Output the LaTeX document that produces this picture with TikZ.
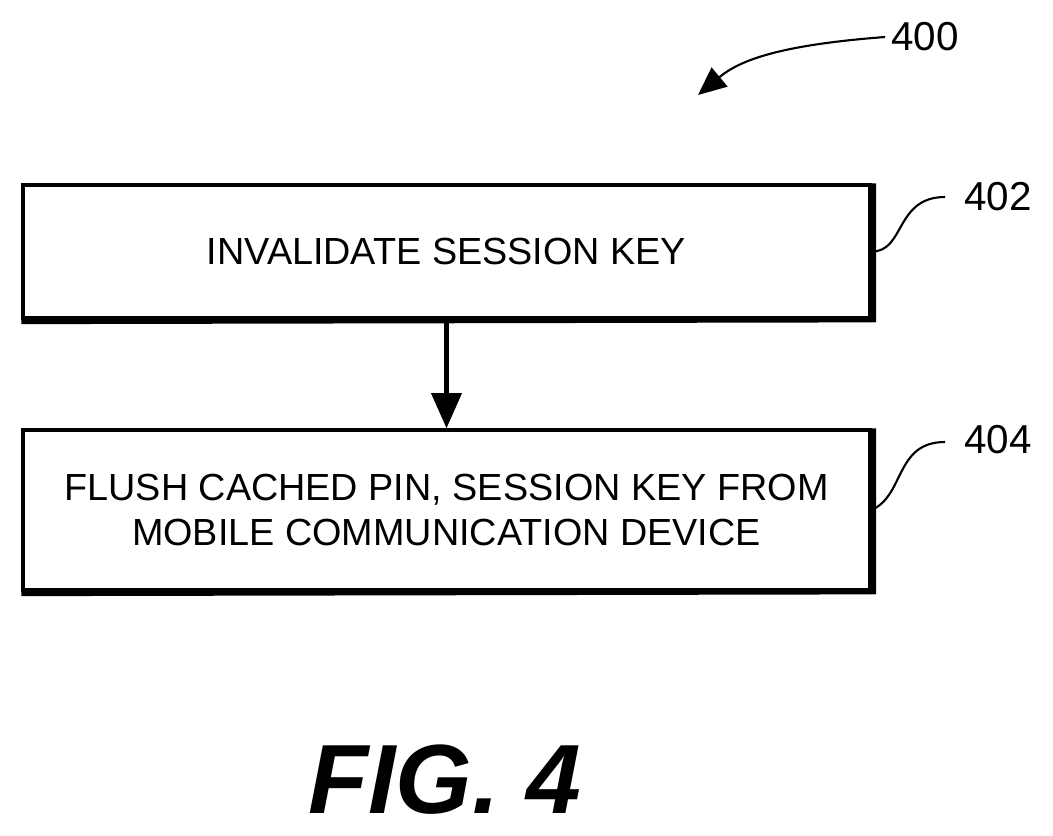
\documentclass[tikz,border=0pt]{standalone}
\usepackage{fontspec}
\setmainfont{Liberation Sans}
\usetikzlibrary{arrows.meta,positioning}
\tikzset{
  stepbox/.style={draw, line width=2pt, minimum width=16.94cm, minimum height=2.66cm, align=center, font=\fontsize{21.5}{26}\selectfont},
  ref/.style={font=\fontsize{23}{26}\selectfont},
  lead/.style={line width=1.2pt}
}
\begin{document}
\begin{tikzpicture}[x=0.02cm,y=-0.02cm]
\useasboundingbox (0,0) rectangle (1053,835);

% Steps
\node[stepbox] (invalidate) at (446.5,251.5) {INVALIDATE SESSION KEY};
\node[stepbox, minimum height=3.2cm] (flush) at (446.5,510) {FLUSH CACHED PIN, SESSION KEY FROM\\MOBILE COMMUNICATION DEVICE};

% Shadow edges
\foreach \n in {invalidate,flush}{
  \draw[line width=3pt] ([xshift=1pt]\n.north east) -- ([xshift=1pt]\n.south east) -- ([yshift=-1pt]\n.south west);
}

\draw[-{Triangle[length=20pt,width=17pt]}, line width=2.5pt] (invalidate) -- (flush);

% Reference numerals
\node[ref] (n400) at (925,37) {400};
\node[ref] (n402) at (998,197) {402};
\node[ref] (n404) at (998,440) {404};
\draw[lead,-{Triangle[length=16pt,width=14pt]}] (n400.west) .. controls (780,45) and (740,60) .. (698,95);
\draw[lead] (invalidate.east) .. controls (905,252) and (895,197) .. (945,197);
\draw[lead] (flush.east) .. controls (905,495) and (895,442) .. (945,442);

% Caption
\node[font=\fontsize{56}{60}\selectfont\bfseries\itshape] (caption) at (445,780) {FIG. 4};
\end{tikzpicture}
\end{document}
